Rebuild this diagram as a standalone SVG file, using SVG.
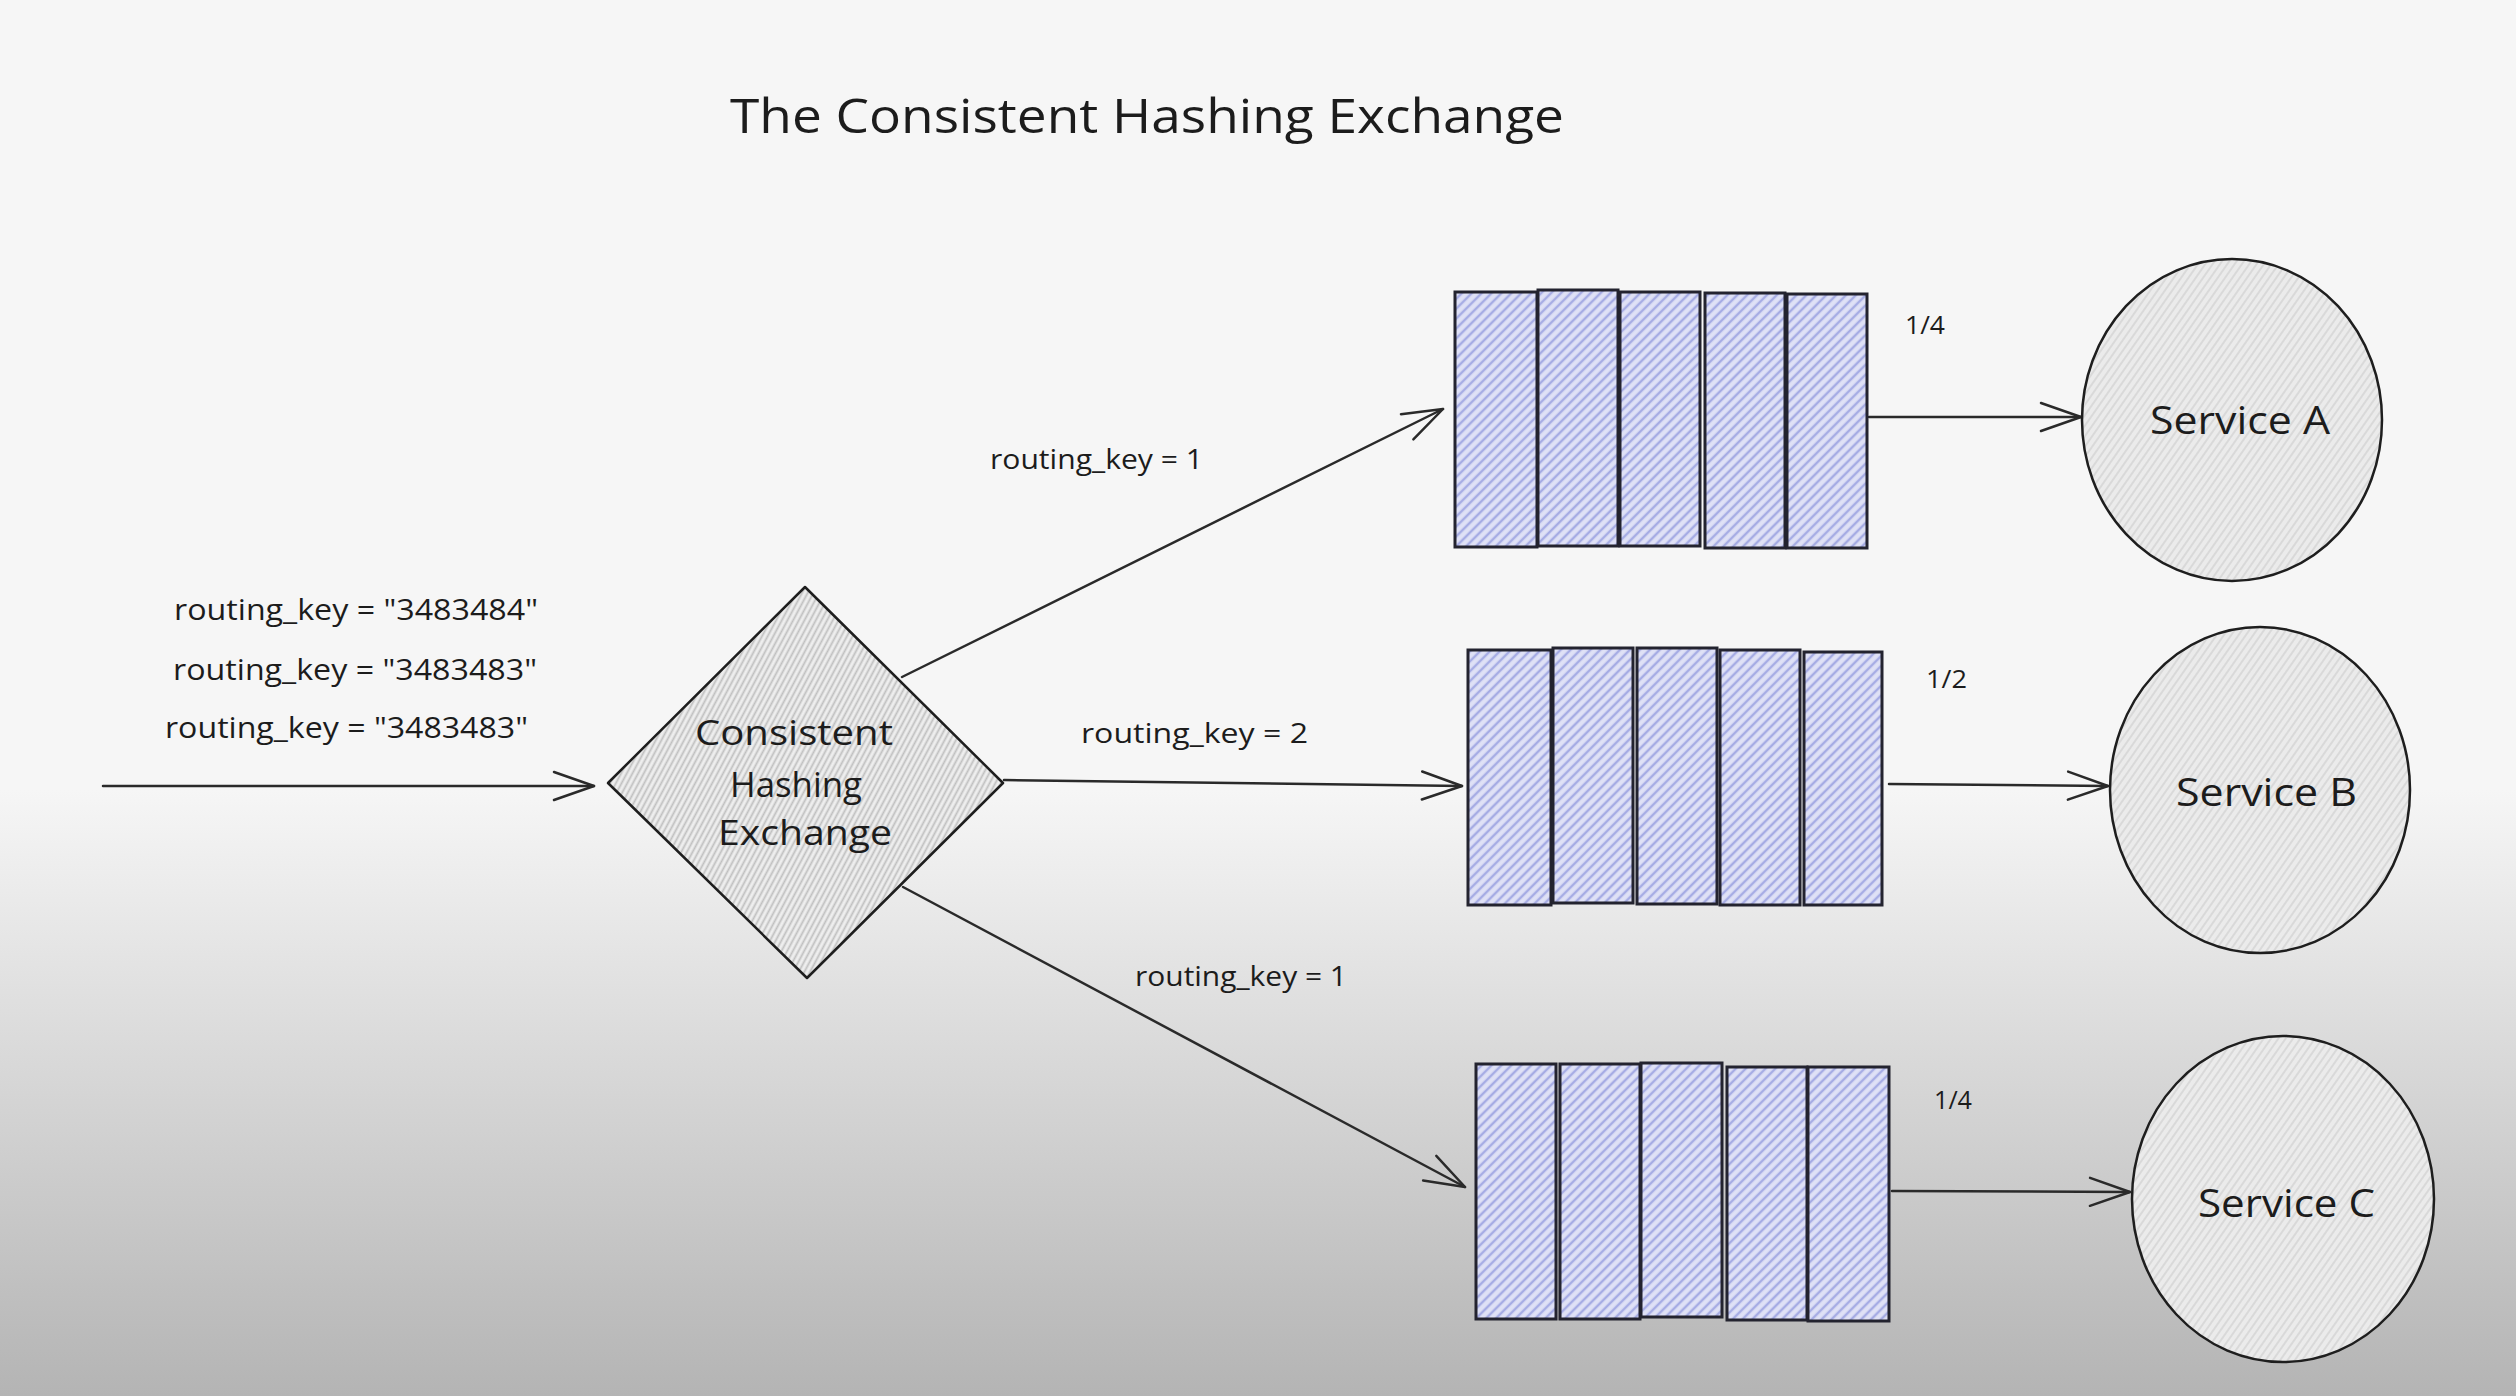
<svg xmlns="http://www.w3.org/2000/svg" width="2516" height="1396" viewBox="0 0 2516 1396">
  <defs>
    <style>
      .t { font-family: "Open Sans", "Liberation Sans", sans-serif; fill: #1c1c1c; }
      .edge { fill: none; stroke: #2a2a2a; stroke-width: 2.5; stroke-linecap: round; }
      .cell { fill: url(#qhatch); stroke: #23232f; stroke-width: 3; }
      .svc { fill: url(#chatch); stroke: #1e1e1e; stroke-width: 2.5; }
    </style>
    <pattern id="qhatch" patternUnits="userSpaceOnUse" width="7" height="7" patternTransform="rotate(45)">
      <rect width="7" height="7" fill="#dfe1f6"/>
      <line x1="2" y1="0" x2="2" y2="7" stroke="#a6ace4" stroke-width="2.5"/>
    </pattern>
    <pattern id="dhatch" patternUnits="userSpaceOnUse" width="5" height="5" patternTransform="rotate(28)">
      <rect width="5" height="5" fill="#eeeeee"/>
      <line x1="1.5" y1="0" x2="1.5" y2="5" stroke="#c0c0c0" stroke-width="1.8"/>
    </pattern>
    <pattern id="chatch" patternUnits="userSpaceOnUse" width="6" height="6" patternTransform="rotate(35)">
      <rect width="6" height="6" fill="#ebebeb"/>
      <line x1="2" y1="0" x2="2" y2="6" stroke="#d4d4d4" stroke-width="1.5"/>
    </pattern>
    <linearGradient id="bg" gradientUnits="userSpaceOnUse" x1="0" y1="790" x2="0" y2="1396">
      <stop offset="0" stop-color="#f6f6f6"/>
      <stop offset="1" stop-color="#b4b4b4"/>
    </linearGradient>
    <marker id="ah" markerUnits="userSpaceOnUse" orient="auto" markerWidth="60" markerHeight="40" viewBox="-50 -20 60 40" refX="0" refY="0" overflow="visible">
      <path d="M-40,-14 L0,0 L-40,14" fill="none" stroke="#2a2a2a" stroke-width="2.5" stroke-linecap="round" stroke-linejoin="round"/>
    </marker>
  </defs>

  <rect x="0" y="0" width="2516" height="1396" fill="url(#bg)"/>

  <text class="t" x="730" y="133" font-size="48" textLength="834" lengthAdjust="spacingAndGlyphs">The Consistent Hashing Exchange</text>

  <g id="connectors">
    <line class="edge" x1="103" y1="786" x2="594" y2="786" marker-end="url(#ah)"/>
    <line class="edge" x1="902" y1="677" x2="1443" y2="409" marker-end="url(#ah)"/>
    <line class="edge" x1="1004" y1="780" x2="1462" y2="786" marker-end="url(#ah)"/>
    <line class="edge" x1="903" y1="887" x2="1465" y2="1187" marker-end="url(#ah)"/>
    <line class="edge" x1="1869" y1="417" x2="2081" y2="417" marker-end="url(#ah)"/>
    <line class="edge" x1="1889" y1="784" x2="2108" y2="786" marker-end="url(#ah)"/>
    <line class="edge" x1="1892" y1="1191" x2="2130" y2="1192" marker-end="url(#ah)"/>
    <text class="t" x="174" y="620" font-size="29" textLength="364" lengthAdjust="spacingAndGlyphs">routing_key = "3483484"</text>
    <text class="t" x="173" y="680" font-size="29" textLength="364" lengthAdjust="spacingAndGlyphs">routing_key = "3483483"</text>
    <text class="t" x="165" y="738" font-size="29" textLength="363" lengthAdjust="spacingAndGlyphs">routing_key = "3483483"</text>
    <text class="t" x="990" y="469" font-size="27" textLength="213" lengthAdjust="spacingAndGlyphs">routing_key = 1</text>
    <text class="t" x="1081" y="743" font-size="27" textLength="227" lengthAdjust="spacingAndGlyphs">routing_key = 2</text>
    <text class="t" x="1135" y="986" font-size="27" textLength="212" lengthAdjust="spacingAndGlyphs">routing_key = 1</text>
    <text class="t" x="1905" y="334" font-size="26" textLength="40" lengthAdjust="spacingAndGlyphs">1/4</text>
    <text class="t" x="1926" y="688" font-size="26" textLength="41" lengthAdjust="spacingAndGlyphs">1/2</text>
    <text class="t" x="1934" y="1109" font-size="26" textLength="38" lengthAdjust="spacingAndGlyphs">1/4</text>
  </g>

  <g id="exchange">
    <polygon points="805,587 1003,783 807,978 608,783" fill="url(#dhatch)" stroke="#1e1e1e" stroke-width="2.5" stroke-linejoin="round"/>
    <text class="t" x="695" y="745" font-size="34" textLength="198" lengthAdjust="spacingAndGlyphs">Consistent</text>
    <text class="t" x="730" y="797" font-size="34" textLength="132" lengthAdjust="spacingAndGlyphs">Hashing</text>
    <text class="t" x="718" y="845" font-size="34" textLength="174" lengthAdjust="spacingAndGlyphs">Exchange</text>
  </g>

  <g id="queue-a">
    <rect class="cell" x="1455" y="292" width="82" height="255"/>
    <rect class="cell" x="1538" y="290" width="80" height="256"/>
    <rect class="cell" x="1620" y="292" width="80" height="254"/>
    <rect class="cell" x="1705" y="293" width="80" height="255"/>
    <rect class="cell" x="1787" y="294" width="80" height="254"/>
  </g>

  <g id="queue-b">
    <rect class="cell" x="1468" y="650" width="83" height="255"/>
    <rect class="cell" x="1553" y="648" width="80" height="255"/>
    <rect class="cell" x="1637" y="648" width="80" height="256"/>
    <rect class="cell" x="1720" y="650" width="80" height="255"/>
    <rect class="cell" x="1804" y="652" width="78" height="253"/>
  </g>

  <g id="queue-c">
    <rect class="cell" x="1476" y="1064" width="80" height="255"/>
    <rect class="cell" x="1560" y="1064" width="80" height="255"/>
    <rect class="cell" x="1641" y="1063" width="81" height="254"/>
    <rect class="cell" x="1727" y="1067" width="80" height="253"/>
    <rect class="cell" x="1808" y="1067" width="81" height="254"/>
  </g>

  <g id="service-a">
    <ellipse class="svc" cx="2232" cy="420" rx="150" ry="161"/>
    <text class="t" x="2150" y="434" font-size="38" textLength="180" lengthAdjust="spacingAndGlyphs">Service A</text>
  </g>

  <g id="service-b">
    <ellipse class="svc" cx="2260" cy="790" rx="150" ry="163"/>
    <text class="t" x="2176" y="806" font-size="38" textLength="181" lengthAdjust="spacingAndGlyphs">Service B</text>
  </g>

  <g id="service-c">
    <ellipse class="svc" cx="2283" cy="1199" rx="151" ry="163"/>
    <text class="t" x="2198" y="1217" font-size="38" textLength="177" lengthAdjust="spacingAndGlyphs">Service C</text>
  </g>
</svg>
